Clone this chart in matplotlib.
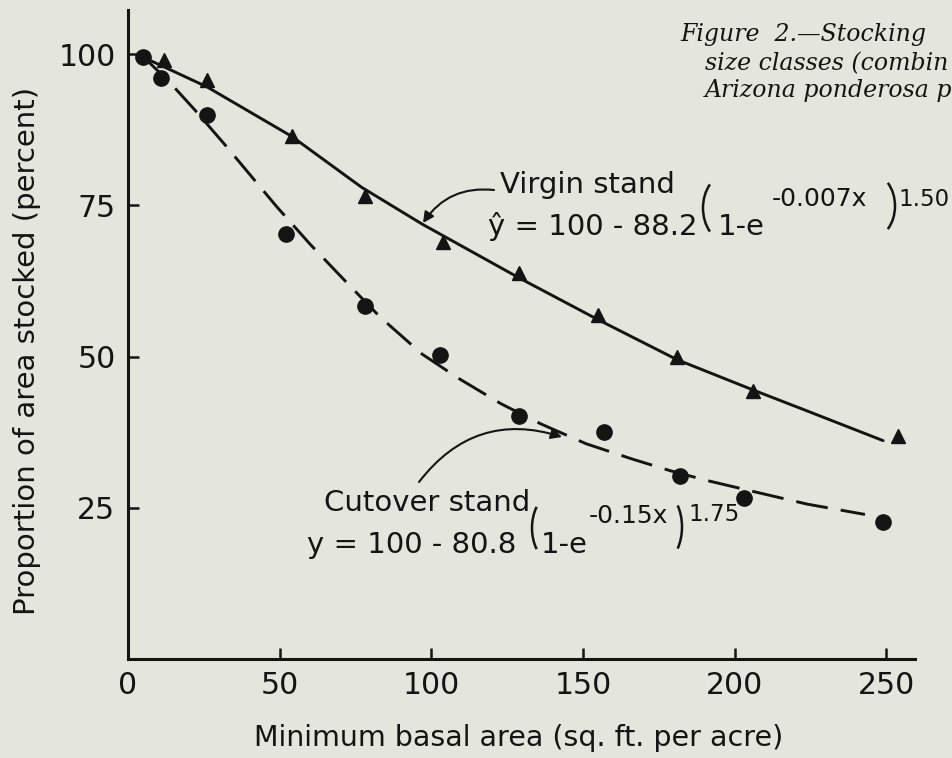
import matplotlib.pyplot as plt
from matplotlib.patches import Arc

W, H = 953, 758
BG = '#e4e5dc'
INK = '#141414'

# observed data points
virgin_x = [12, 26, 54, 78, 104, 129, 155, 181, 206, 254]
virgin_y = [99.1, 95.8, 86.4, 76.6, 68.9, 63.8, 56.8, 49.9, 44.3, 36.8]
cutover_x = [5, 11, 26, 52, 78, 103, 129, 157, 182, 203, 249]
cutover_y = [99.6, 96.0, 89.9, 70.2, 58.3, 50.3, 40.1, 37.6, 30.3, 26.7, 22.7]

# fitted curves
virgin_fit_x = [5, 26, 54, 77, 97, 129, 155, 181, 206, 224, 249]
virgin_fit_y = [99.5, 94.6, 86.4, 78.0, 71.9, 63.0, 56.1, 49.5, 44.5, 41.0, 36.1]
cutover_fit_x = [5, 14, 22, 32, 40, 49, 60, 72, 83, 97, 109, 123, 136, 151,
                 166, 179, 191, 207, 224, 243]
cutover_fit_y = [99.6, 95.2, 90.8, 85.0, 80.2, 74.8, 68.6, 62.3, 56.6, 50.4,
                 46.4, 42.2, 38.9, 35.6, 33.1, 31.1, 29.5, 27.6, 25.6, 23.9]

x_ticks = [0, 50, 100, 150, 200, 250]
y_ticks = [25, 50, 75, 100]

plt.rcParams['font.family'] = ['DejaVu Sans']

fig = plt.figure(figsize=(W / 100, H / 100), dpi=100, facecolor=BG)
ax = fig.add_axes([128 / W, 1 - 659 / H, (915 - 128) / W, (659 - 10) / H])
ax.set_facecolor(BG)


def fx(x):
    return x / W


def fy(y):
    return 1 - y / H


# curves and points
ax.plot(virgin_fit_x, virgin_fit_y, color=INK, lw=2.1, solid_capstyle='round',
        solid_joinstyle='round')
ax.plot(cutover_fit_x, cutover_fit_y, color=INK, lw=2.1,
        linestyle=(0, (11, 4.5)))
ax.plot(virgin_x, virgin_y, '^', color=INK, ms=10.5, zorder=3)
ax.plot(cutover_x, cutover_y, 'o', color=INK, ms=11, zorder=3)

ax.set_xlim(0, 259.5)
ax.set_ylim(0, 107.3)
ax.set_xticks(x_ticks)
ax.set_yticks(y_ticks)
ax.set_xticklabels([str(v) for v in x_ticks])
ax.set_yticklabels([str(v) for v in y_ticks])
for s in ['top', 'right']:
    ax.spines[s].set_visible(False)
for s in ['left', 'bottom']:
    ax.spines[s].set_linewidth(2.2)
    ax.spines[s].set_color(INK)
ax.tick_params(direction='in', length=8, width=1.8, colors=INK,
               labelsize=21.5, pad=9)

fig.text(fx(519), fy(738), 'Minimum basal area (sq. ft. per acre)',
         ha='center', va='center', fontsize=20.5, color=INK)
fig.text(fx(27), fy(351), 'Proportion of area stocked (percent)',
         ha='center', va='center', rotation=90, fontsize=21, color=INK)

# caption, running off the right edge like the page
cap = dict(fontsize=17, family='DejaVu Serif', style='italic', color=INK,
           va='baseline')
fig.text(fx(680), fy(41), 'Figure  2.\u2014Stocking', **cap)
fig.text(fx(705), fy(70), 'size classes (combin', **cap)
fig.text(fx(705), fy(97), 'Arizona ponderosa p', **cap)

main = dict(fontsize=21, color=INK, va='baseline')
sup = dict(fontsize=18, color=INK, va='baseline')
exp = dict(fontsize=16.5, color=INK, va='baseline')

# virgin stand label and equation
fig.text(fx(500), fy(193), 'Virgin stand', **main)
fig.text(fx(698), fy(235), '\u0177 = 100 - 88.2', ha='right', **main)
fig.text(fx(718), fy(235), '1-e', **main)
fig.text(fx(772), fy(206), '-0.007x', **sup)
fig.text(fx(898), fy(206), '1.50', **exp)

# cutover stand label and equation
fig.text(fx(530), fy(511), 'Cutover stand', ha='right', **main)
fig.text(fx(516), fy(553), 'y = 100 - 80.8', ha='right', **main)
fig.text(fx(541), fy(553), '1-e', **main)
fig.text(fx(589), fy(523), '-0.15x', **sup)
fig.text(fx(688), fy(521), '1.75', **exp)

# big parentheses
for cx, cy, a, h, left in [(727, 208, 24, 58, True), (871, 206, 24, 56, False),
                           (552, 528, 20, 57, True), (662, 527, 20, 60, False)]:
    b = h / (2 * 0.866)
    t1, t2 = (120, 240) if left else (-60, 60)
    fig.add_artist(Arc((fx(cx), fy(cy)), 2 * a / W, 2 * b / H, theta1=t1,
                       theta2=t2, transform=fig.transFigure, color=INK,
                       lw=1.8))

# pointer arrows
arrow = dict(arrowstyle='-|>', lw=1.5, color=INK, shrinkA=0, shrinkB=0,
             mutation_scale=16)
ax.annotate('', xy=(fx(423), fy(223)), xycoords='figure fraction',
            xytext=(fx(494), fy(190)), textcoords='figure fraction',
            arrowprops=dict(connectionstyle='arc3,rad=0.3', **arrow))
ax.annotate('', xy=(fx(562), fy(437)), xycoords='figure fraction',
            xytext=(fx(419), fy(482)), textcoords='figure fraction',
            arrowprops=dict(connectionstyle='arc3,rad=-0.35', **arrow))

fig.savefig('out.png', dpi=100, facecolor=BG)
